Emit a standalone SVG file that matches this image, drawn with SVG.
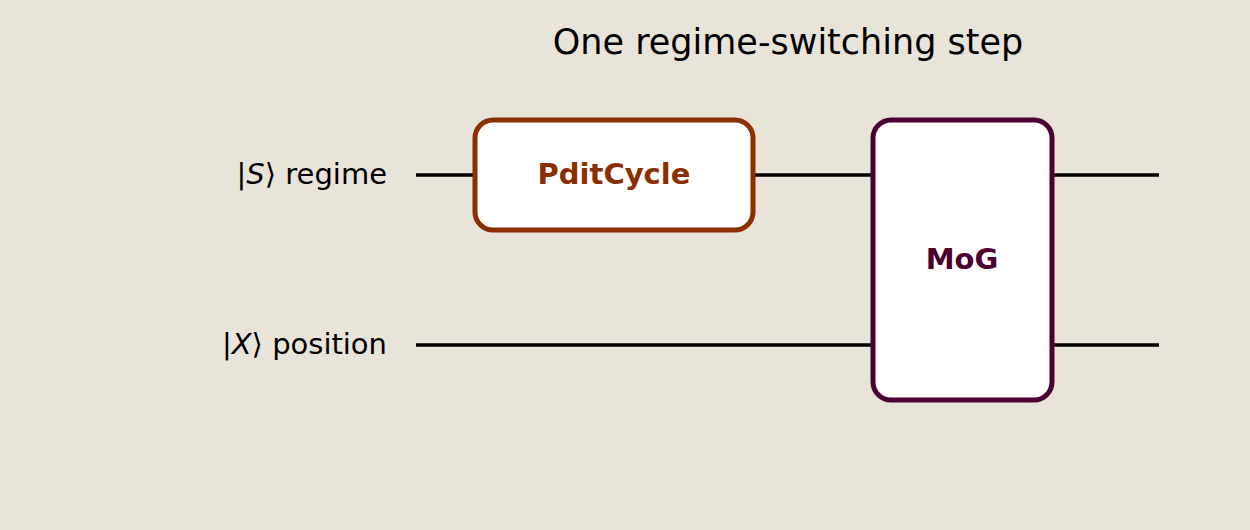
<svg xmlns="http://www.w3.org/2000/svg" width="1250" height="530" viewBox="0 0 1250 530">
<style>
text{font-family:"DejaVu Sans",sans-serif}
.lbl{font-size:29px;text-anchor:end;fill:#000}
.wire{stroke:#000;stroke-width:3.5}
.gl{font-size:29px;font-weight:bold;text-anchor:middle}
</style>
<rect width="1250" height="530" fill="#e8e4da"/>
<text x="788" y="54" font-size="35" text-anchor="middle">One regime-switching step</text>
<text class="lbl" x="387" y="184">|<tspan font-style="italic">S</tspan>⟩ regime</text>
<text class="lbl" x="387" y="354">|<tspan font-style="italic">X</tspan>⟩ position</text>
<g id="wires">
<line class="wire" x1="416" y1="175" x2="1159" y2="175"/>
<line class="wire" x1="416" y1="345" x2="1159" y2="345"/>
</g>
<g id="pdit">
<rect x="475" y="120" width="278" height="110" rx="18" fill="#fff" stroke="#8b2e00" stroke-width="5"/>
<text class="gl" x="614" y="184" fill="#8b2e00">PditCycle</text>
</g>
<g id="mog">
<rect x="873" y="120" width="179" height="280" rx="18" fill="#fff" stroke="#4d0030" stroke-width="5"/>
<text class="gl" x="962" y="269" fill="#4d0030">MoG</text>
</g>
</svg>
